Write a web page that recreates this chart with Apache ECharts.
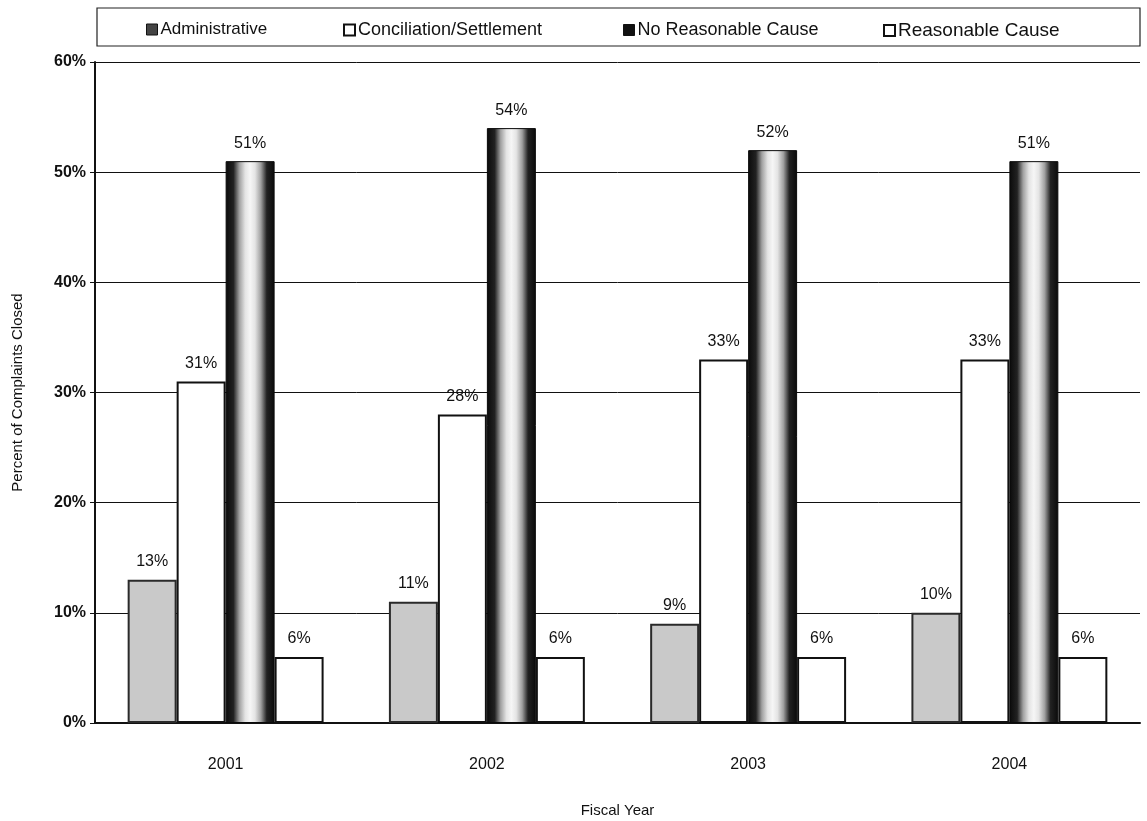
<!DOCTYPE html>
<html>
<head>
<meta charset="utf-8">
<script src="https://cdn.jsdelivr.net/npm/echarts@6/dist/echarts.min.js"></script>
<style>
html,body{margin:0;padding:0;background:#fff;}
#chart{width:1147px;height:821px;}
</style>
</head>
<body>
<div id="chart"></div>
<script>
const categories = ['2001', '2002', '2003', '2004'];
const seriesNames = ['Administrative', 'Conciliation/Settlement', 'No Reasonable Cause', 'Reasonable Cause'];
const administrative = [13, 11, 9, 10];
const conciliation = [31, 28, 33, 33];
const noReasonableCause = [51, 54, 52, 51];
const reasonableCause = [6, 6, 6, 6];
const yTicks = [0, 10, 20, 30, 40, 50, 60];

const FONT = 'Liberation Sans, Arial, sans-serif';

const chart = echarts.init(document.getElementById('chart'));

const nrcFill = new echarts.graphic.LinearGradient(0, 0, 1, 0, [
  {offset: 0, color: '#0a0a0a'},
  {offset: 0.16, color: '#222'},
  {offset: 0.28, color: '#a0a0a0'},
  {offset: 0.4, color: '#e4e4e4'},
  {offset: 0.5, color: '#f6f6f6'},
  {offset: 0.6, color: '#e4e4e4'},
  {offset: 0.72, color: '#a0a0a0'},
  {offset: 0.84, color: '#222'},
  {offset: 1, color: '#0a0a0a'}
]);

const styles = [
  {color: '#c9c9c9', borderColor: '#2a2a2a', borderWidth: 2},
  {color: '#ffffff', borderColor: '#111', borderWidth: 2},
  {color: nrcFill, borderColor: '#0a0a0a', borderWidth: 1},
  {color: '#ffffff', borderColor: '#111', borderWidth: 2}
];
const legendIcons = [
  {color: '#444', borderColor: '#111', borderWidth: 1},
  {color: '#fff', borderColor: '#111', borderWidth: 2},
  {color: '#111', borderColor: '#111', borderWidth: 1},
  {color: '#fff', borderColor: '#111', borderWidth: 2}
];
const legendLefts = [141, 338, 618, 878];
const legendFontSizes = [17, 18, 18, 19];
const dataSets = [administrative, conciliation, noReasonableCause, reasonableCause];

const series = seriesNames.map((name, i) => ({
  name: name,
  type: 'bar',
  data: dataSets[i],
  barGap: '0%',
  barCategoryGap: '25%',
  itemStyle: styles[i],
  label: {
    show: true,
    position: 'top',
    distance: 10,
    formatter: p => p.value + '%',
    fontFamily: FONT,
    fontSize: 16,
    color: '#111'
  }
}));

chart.setOption({
  animation: false,
  backgroundColor: '#ffffff',
  graphic: [{
    type: 'rect',
    shape: {x: 97, y: 8, width: 1043, height: 38},
    style: {fill: 'none', stroke: '#222', lineWidth: 1.2},
    z: 0
  }],
  legend: seriesNames.map((name, i) => ({
    left: legendLefts[i],
    top: 16,
    itemWidth: 11,
    itemHeight: 11,
    itemGap: 4,
    icon: 'rect',
    data: [{name: name, itemStyle: legendIcons[i]}],
    textStyle: {fontFamily: FONT, fontSize: legendFontSizes[i], color: '#111', padding: [0, 0, 0, -2]}
  })),
  grid: {left: 95, right: 7, top: 62, bottom: 98, containLabel: false, outerBoundsMode: 'none'},
  xAxis: {
    type: 'category',
    data: categories,
    name: 'Fiscal Year',
    nameLocation: 'middle',
    nameGap: 80,
    nameTextStyle: {fontFamily: FONT, fontSize: 15, color: '#111'},
    axisLine: {lineStyle: {color: '#111', width: 2}},
    axisTick: {show: false},
    axisLabel: {fontFamily: FONT, fontSize: 16, color: '#111', margin: 34}
  },
  yAxis: {
    type: 'value',
    min: 0,
    max: 60,
    interval: 10,
    name: 'Percent of Complaints Closed',
    nameLocation: 'middle',
    nameGap: 70,
    nameTextStyle: {fontFamily: FONT, fontSize: 15, color: '#111'},
    axisLine: {show: true, lineStyle: {color: '#111', width: 2}},
    axisTick: {show: true, length: 5, lineStyle: {color: '#111'}},
    axisLabel: {
      fontFamily: FONT, fontSize: 16, fontWeight: 'bold', color: '#111', margin: 9,
      formatter: v => yTicks.includes(v) ? v + '%' : ''
    },
    splitLine: {show: true, lineStyle: {color: '#111', width: 1}}
  },
  series: series
});
</script>
</body>
</html>
